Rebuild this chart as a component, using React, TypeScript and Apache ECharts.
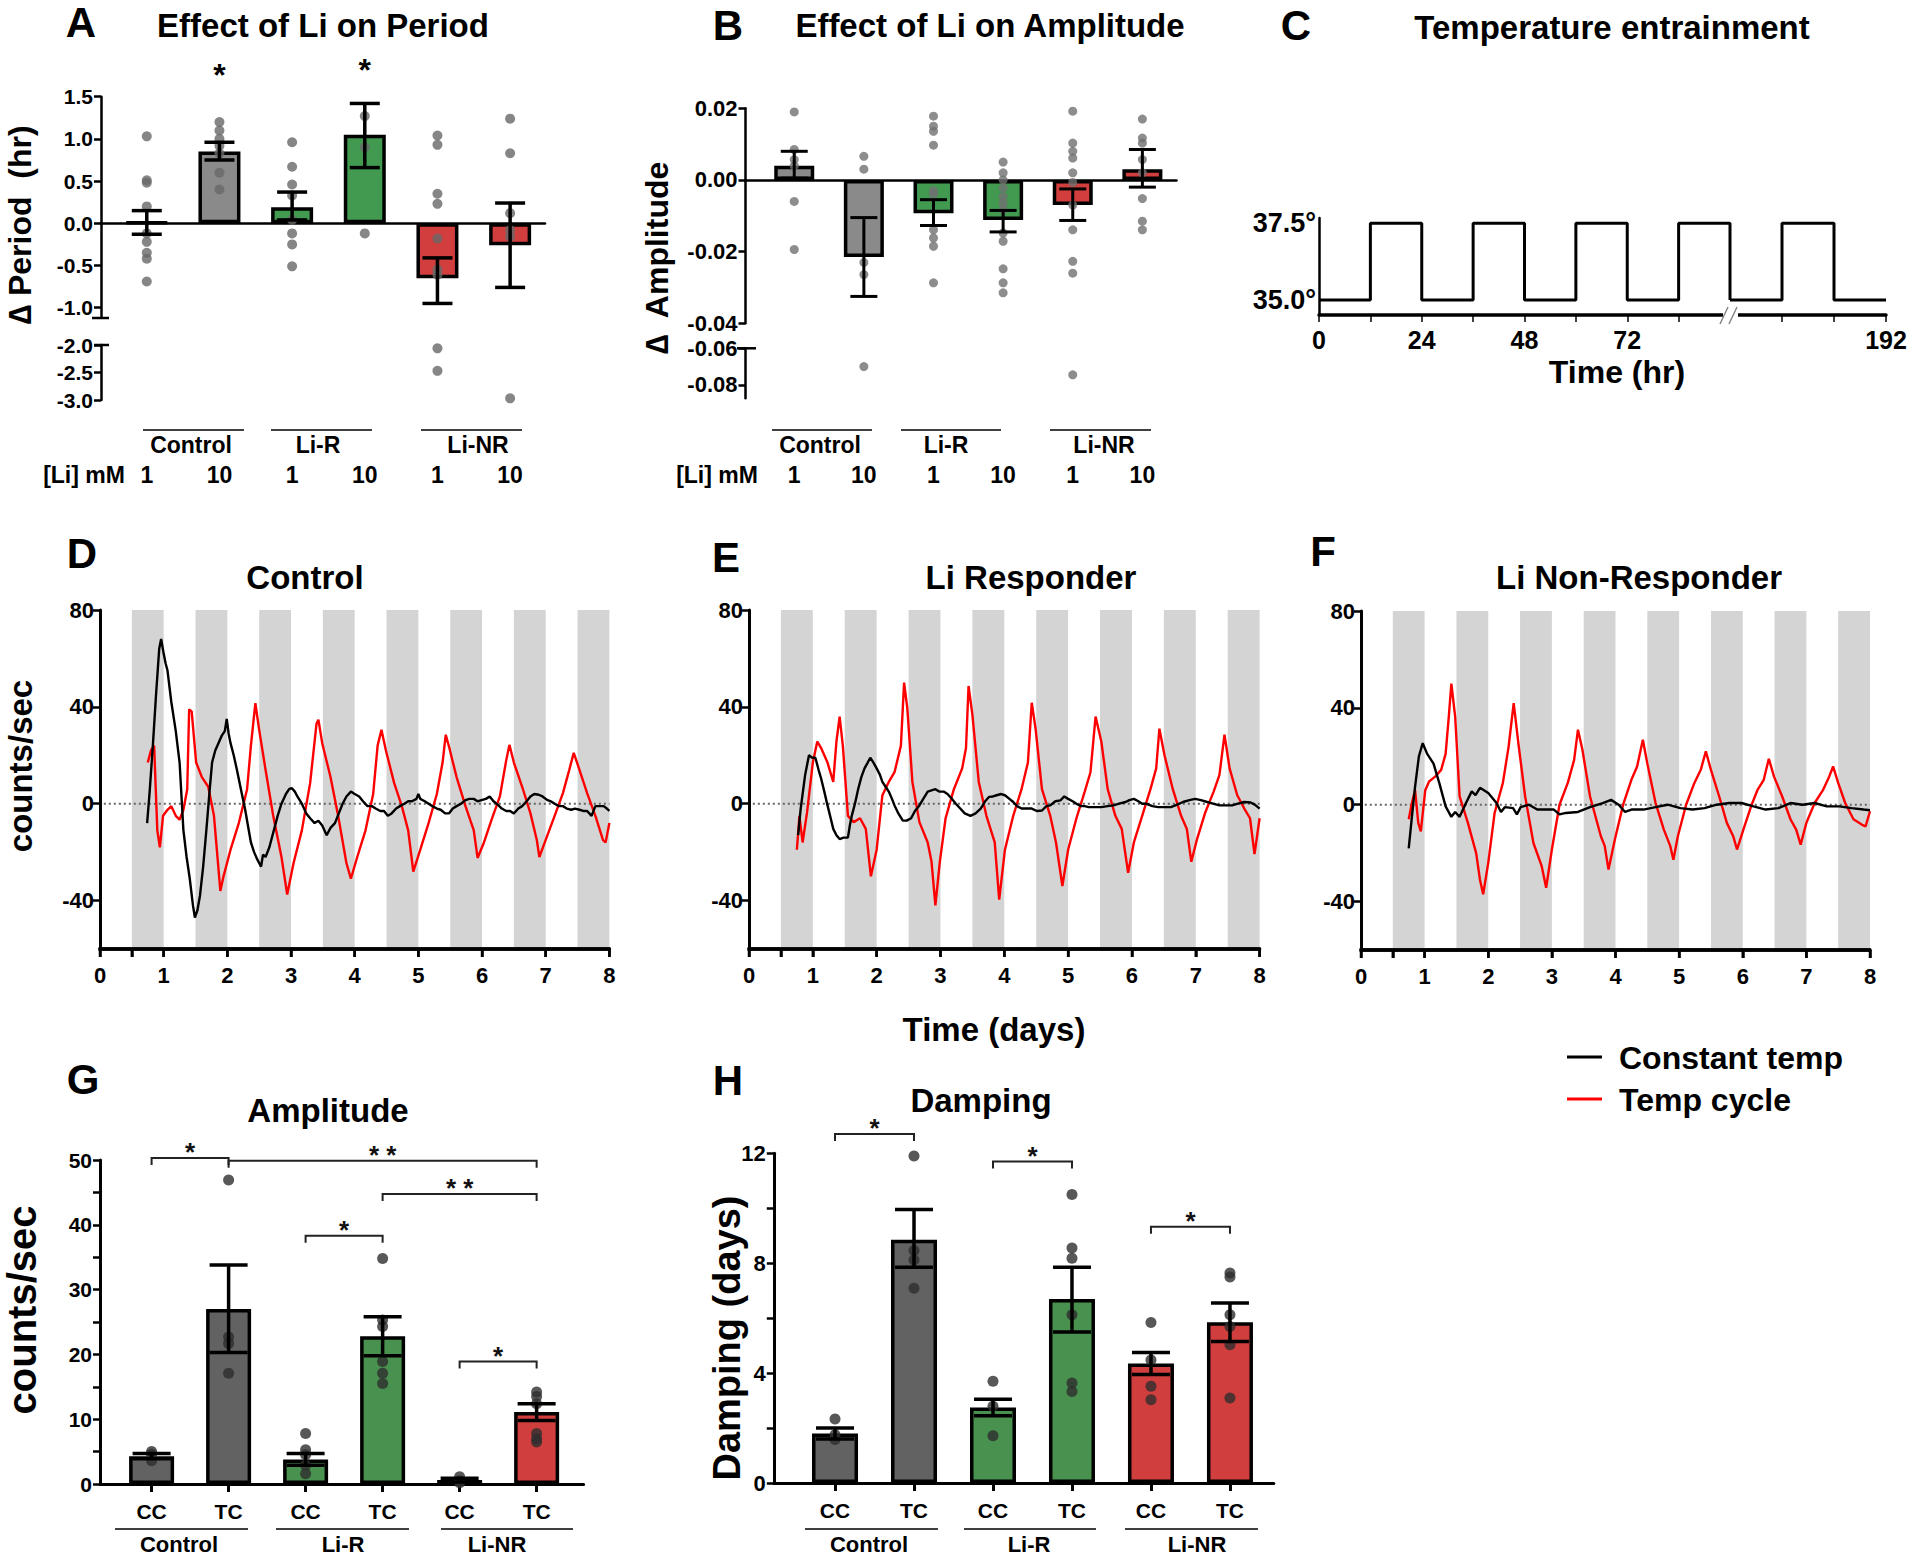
import React, { useEffect, useRef } from "react";
import * as echarts from "echarts";

const FONT = '"Liberation Sans", Arial, Helvetica, sans-serif';

// ---------------- Panel A : change in period ----------------
const groupNames = ["Control", "Li-R", "Li-NR"];
const doseLabels = ["1", "10", "1", "10", "1", "10"];
const periodMean = [0.01, 0.85, 0.19, 1.05, -0.65, -0.26];
const periodLow = [-0.13, 0.75, 0.04, 0.66, -0.95, -0.76];
const periodHigh = [0.15, 0.96, 0.37, 1.42, -0.41, 0.24];
const periodDots = [
  [1.03, 0.51, 0.48, 0.2, -0.12, -0.22, -0.35, -0.42, -0.69],
  [1.2, 1.1, 1.0, 0.92, 0.83, 0.6, 0.4],
  [0.96, 0.67, 0.46, 0.33, 0.04, -0.12, -0.25, -0.51],
  [1.27, 0.9, -0.12],
  [1.04, 0.93, 0.35, 0.23, -0.18, -0.55, -0.61, -2.06, -2.47],
  [1.24, 0.83, 0.12, -0.08, -0.16, -2.97],
];
const periodStars = [[1, 1.76], [3, 1.82]];
const periodTicksUpper = [1.5, 1.0, 0.5, 0.0, -0.5, -1.0];
const periodTicksLower = [-2.0, -2.5, -3.0];

// ---------------- Panel B : change in amplitude ----------------
const ampMean = [0.004, -0.0215, -0.0093, -0.0112, -0.007, 0.003];
const ampLow = [0.0005, -0.0325, -0.0127, -0.0145, -0.0113, -0.002];
const ampHigh = [0.008, -0.0105, -0.0055, -0.0085, -0.0025, 0.0085];
const ampDots = [
  [0.019, 0.0085, 0.0057, 0.004, -0.006, -0.0194],
  [0.0066, 0.003, -0.023, -0.0264, -0.07],
  [0.0178, 0.015, 0.0136, 0.0097, -0.003, -0.004, -0.0139, -0.0162, -0.0185, -0.0287],
  [0.005, 0.002, 0.0, -0.0022, -0.0046, -0.0064, -0.0083, -0.0148, -0.0171, -0.0248, -0.0287, -0.0315],
  [0.0192, 0.0103, 0.008, 0.0061, 0.002, -0.0007, -0.007, -0.0139, -0.0227, -0.026, -0.0745],
  [0.017, 0.0117, 0.0103, 0.0057, 0.002, -0.0052, -0.0115, -0.0139],
];
const ampTicksUpper = [0.02, 0.0, -0.02, -0.04];
const ampTicksLower = [-0.06, -0.08];

// ---------------- Panel C : temperature entrainment ----------------
const tempTimesA = [0, 12, 24, 36, 48, 60, 72, 84, 96];
const tempValsA = [35, 37.5, 35, 37.5, 35, 37.5, 35, 37.5, 35];
const tempTimesB = [156, 168, 180, 192];
const tempValsB = [35, 37.5, 35, 35];
const tempLevels = [35, 37.5];
const hourLabelsA = [0, 24, 48, 72];
const hourTicksA = [0, 12, 24, 36, 48, 60, 72, 84];
const hourLabelsB = [192];
const hourTicksB = [168, 180, 192];

// ---------------- Panels D-F : bioluminescence traces ----------------
const warmPhases = [[0.5, 1], [1.5, 2], [2.5, 3], [3.5, 4], [4.5, 5], [5.5, 6], [6.5, 7], [7.5, 8]];
const dayLabels = [0, 1, 2, 3, 4, 5, 6, 7, 8];
const dayTicks = [0, 0.5, 1, 2, 3, 4, 5, 6, 7, 8];
const countTicks = [80, 40, 0, -40];
const zeroLine = [[0.06, 0], [8, 0]];

const controlConstant = [
  [0.74, -8], [0.78, 5], [0.83, 24], [0.88, 45], [0.93, 64], [0.96, 68], [1.0, 62], [1.03, 58], [1.06, 55], [1.12, 42],
  [1.19, 30], [1.25, 17], [1.31, -11], [1.36, -22], [1.41, -31], [1.46, -42], [1.49, -47], [1.53, -44], [1.57, -38],
  [1.62, -26], [1.67, -11], [1.72, 5], [1.76, 17], [1.81, 22], [1.86, 25], [1.91, 28], [1.96, 30], [1.99, 35],
  [2.02, 29], [2.05, 25], [2.1, 20], [2.15, 14], [2.22, 5], [2.28, -2.5], [2.33, -10], [2.37, -16], [2.42, -20],
  [2.47, -23], [2.53, -26], [2.56, -21], [2.6, -22], [2.66, -18], [2.72, -12], [2.79, -5], [2.85, 0], [2.92, 4],
  [2.97, 6], [3.01, 6.5], [3.06, 5], [3.1, 3], [3.17, 0], [3.24, -4], [3.3, -6], [3.37, -8], [3.43, -7], [3.49, -9],
  [3.56, -13], [3.62, -10], [3.69, -8], [3.75, -4], [3.81, 0], [3.87, 3], [3.94, 5], [4.0, 4], [4.07, 3], [4.13, 1],
  [4.2, -1], [4.27, -1], [4.33, -2], [4.4, -3], [4.46, -3], [4.52, -5], [4.58, -4], [4.65, -2], [4.71, -1], [4.78, 0],
  [4.84, 1], [4.9, 1], [4.97, 2], [5.0, 4], [5.03, 2], [5.1, 1], [5.16, 0], [5.22, -1], [5.29, -2], [5.35, -2.5],
  [5.42, -4], [5.48, -4], [5.54, -2], [5.6, -1], [5.67, 0], [5.74, 1.5], [5.8, 2], [5.87, 2], [5.93, 1], [5.99, 1.5],
  [6.06, 2], [6.12, 3], [6.18, 1], [6.25, -0.5], [6.31, -2], [6.38, -3], [6.44, -3], [6.5, -4], [6.57, -2], [6.63, -1],
  [6.7, 1], [6.76, 3], [6.82, 4], [6.89, 3.7], [6.95, 3], [7.02, 1.6], [7.08, 1], [7.14, 0], [7.21, -1], [7.27, -1],
  [7.33, -2], [7.4, -2.5], [7.46, -2], [7.53, -2.5], [7.59, -3], [7.65, -3], [7.72, -5], [7.78, -1], [7.85, -1],
  [7.91, -1], [7.96, -2], [8.0, -3],
];
const controlCycle = [
  [0.75, 17], [0.8, 22], [0.85, 24], [0.9, -11], [0.94, -18], [0.99, -5], [1.06, -2.5], [1.12, -1], [1.19, -5],
  [1.25, -6.6], [1.31, -2.5], [1.37, 6], [1.4, 39], [1.44, 38], [1.51, 17], [1.6, 11], [1.7, 7], [1.79, -5],
  [1.89, -36], [1.94, -30], [2.05, -19], [2.18, -8], [2.31, 6], [2.37, 24], [2.44, 41.5], [2.5, 30.5], [2.6, 14],
  [2.72, -5], [2.85, -22], [2.94, -37.5], [3.04, -24.5], [3.17, -11], [3.3, 8.5], [3.4, 33], [3.43, 34.7], [3.49, 25],
  [3.62, 11], [3.74, -5], [3.87, -24.5], [3.94, -31], [4.04, -22], [4.17, -11], [4.29, 4], [4.36, 24], [4.42, 30.5],
  [4.49, 22], [4.62, 8.5], [4.74, -1], [4.84, -11], [4.92, -28], [5.03, -19], [5.16, -8], [5.29, 4], [5.38, 17],
  [5.43, 28.5], [5.48, 23.7], [5.6, 11], [5.74, -1], [5.87, -11], [5.93, -22.4], [6.03, -16], [6.15, -6.6], [6.28, 3],
  [6.38, 18], [6.43, 24.3], [6.5, 17], [6.63, 7], [6.76, -4], [6.86, -15], [6.9, -22], [7.02, -13.5], [7.14, -5],
  [7.27, 4.4], [7.37, 14], [7.44, 21], [7.53, 14], [7.65, 4.4], [7.78, -5], [7.9, -15], [7.94, -16], [8.0, -8],
];
const responderConstant = [
  [0.77, -13], [0.81, -2], [0.88, 12], [0.94, 20], [0.99, 19], [1.04, 19], [1.09, 14], [1.13, 10.4], [1.18, 5],
  [1.23, -0.7], [1.28, -6], [1.32, -10.4], [1.37, -13], [1.42, -14.6], [1.48, -14], [1.55, -14], [1.58, -9], [1.61, -5],
  [1.66, 0], [1.71, 6], [1.76, 11], [1.81, 14.6], [1.86, 17], [1.9, 19], [1.95, 17], [2.0, 14.6], [2.05, 12], [2.09, 9],
  [2.14, 7], [2.19, 5], [2.24, 2], [2.28, -0.7], [2.34, -4], [2.41, -7], [2.47, -7], [2.54, -6], [2.6, -3], [2.67, -0.7],
  [2.73, 2], [2.8, 5], [2.86, 5.5], [2.92, 6], [2.98, 5], [3.05, 5], [3.11, 4], [3.18, 2], [3.24, 0], [3.31, -2],
  [3.38, -4], [3.47, -5], [3.55, -4], [3.63, -2], [3.7, 1], [3.76, 2.8], [3.82, 3], [3.88, 3.5], [3.95, 4], [4.01, 3.5],
  [4.08, 2], [4.14, 0.7], [4.2, -1], [4.27, -2], [4.35, -2], [4.43, -2], [4.51, -3], [4.59, -2.8], [4.66, -1],
  [4.72, -0.7], [4.8, 1], [4.88, 1.4], [4.94, 3], [5.0, 2], [5.07, 1], [5.13, 0], [5.2, -1], [5.26, -1], [5.32, -1.4],
  [5.42, -1.4], [5.52, -1.4], [5.62, -1], [5.71, -0.7], [5.8, 0], [5.9, 0.7], [5.96, 1.5], [6.03, 2], [6.1, 1],
  [6.16, 0], [6.22, 0], [6.32, -1], [6.41, -1.4], [6.51, -1.4], [6.61, -1.4], [6.7, -0.5], [6.8, 0.7], [6.9, 1.5],
  [6.99, 2], [7.08, 1.5], [7.18, 0.7], [7.27, 0], [7.37, -0.7], [7.47, -0.7], [7.57, -0.7], [7.66, 0], [7.76, 0.7],
  [7.86, 0.5], [7.93, -0.5], [8.0, -2],
];
const responderCycle = [
  [0.75, -19], [0.79, -5], [0.84, -16], [0.91, -3.5], [1.0, 17], [1.07, 25.7], [1.13, 23], [1.23, 17], [1.32, 9],
  [1.37, 25.7], [1.42, 36], [1.47, 24], [1.55, -5], [1.64, -7.6], [1.74, -6], [1.83, -10.4], [1.91, -30], [2.0, -19],
  [2.09, 3.5], [2.19, 9], [2.28, 13], [2.38, 24], [2.43, 50], [2.48, 39.6], [2.56, 9], [2.67, -7.6], [2.8, -16],
  [2.86, -24], [2.92, -42], [2.99, -24], [3.08, -6], [3.21, 6], [3.34, 14.6], [3.4, 23], [3.44, 48.6], [3.5, 36.8],
  [3.6, 9], [3.72, -5], [3.85, -16], [3.92, -39.6], [4.01, -19], [4.14, -5], [4.27, 6], [4.37, 17], [4.43, 41.7],
  [4.49, 31], [4.59, 6], [4.72, -5], [4.81, -16], [4.91, -34], [5.0, -19], [5.13, -6], [5.26, 5], [5.35, 13],
  [5.43, 36], [5.52, 25.7], [5.62, 6], [5.74, -5], [5.84, -10.4], [5.94, -28.5], [6.03, -16], [6.16, -5], [6.29, 6],
  [6.38, 14.6], [6.43, 31], [6.51, 20], [6.64, 6], [6.77, -5], [6.86, -10.4], [6.93, -24], [7.02, -14.6], [7.15, -3.5],
  [7.28, 5], [7.37, 11.8], [7.45, 28.5], [7.53, 14.6], [7.65, 3.5], [7.76, -2], [7.85, -6], [7.92, -20.8], [8.0, -6],
];
const nonResponderConstant = [
  [0.75, -18], [0.8, -5], [0.85, 7.5], [0.91, 20], [0.97, 25.4], [1.04, 21], [1.14, 17], [1.23, 9], [1.33, -0.7],
  [1.42, -5], [1.48, -3], [1.55, -5], [1.65, 0.7], [1.74, 5.5], [1.8, 4], [1.87, 7], [2.0, 4.8], [2.13, 0.7],
  [2.2, -3], [2.26, -1], [2.39, -1.4], [2.45, -4], [2.51, -1], [2.64, 0], [2.77, -2], [2.9, -2], [3.03, -2],
  [3.12, -4], [3.22, -3.4], [3.41, -3], [3.6, -1], [3.8, 0.7], [3.93, 2], [4.05, 0], [4.15, -3], [4.25, -2],
  [4.44, -2], [4.63, -1], [4.82, 0], [5.02, -1.4], [5.21, -2], [5.4, -1.4], [5.59, 0], [5.79, 0.7], [5.98, 0.7],
  [6.17, -0.7], [6.36, -2], [6.56, -1.4], [6.75, 0.7], [6.94, 0], [7.13, 0.7], [7.32, -0.7], [7.52, -0.7],
  [7.71, -1.4], [7.9, -2], [8.0, -2.3],
];
const nonResponderCycle = [
  [0.75, -6], [0.8, 0.7], [0.85, 6], [0.9, -7.5], [0.94, -11], [1.01, 6], [1.07, 9.6], [1.17, 11.7], [1.26, 14.4],
  [1.33, 21], [1.38, 36.4], [1.42, 50], [1.48, 36.4], [1.55, 3.4], [1.68, -7.5], [1.81, -20], [1.87, -31], [1.92, -37],
  [2.0, -24], [2.1, -3.4], [2.23, 9], [2.32, 24], [2.4, 42], [2.48, 24], [2.58, 3.4], [2.71, -15.8], [2.84, -25.4],
  [2.91, -34.3], [3.0, -18.5], [3.12, 0], [3.25, 9], [3.35, 18.5], [3.41, 31], [3.48, 22.7], [3.6, 3.4], [3.77, -13],
  [3.83, -17], [3.89, -26.8], [3.99, -14.4], [4.12, 0], [4.25, 10.3], [4.34, 15.8], [4.43, 26.8], [4.5, 17],
  [4.63, 0.7], [4.76, -10.3], [4.86, -17], [4.91, -22.7], [4.98, -13], [5.11, 0], [5.24, 9], [5.34, 14.4], [5.42, 22],
  [5.5, 14.4], [5.63, 3.4], [5.75, -7.5], [5.85, -13], [5.91, -18.5], [6.01, -10.3], [6.14, 0], [6.23, 6],
  [6.33, 10.3], [6.41, 19], [6.49, 11.7], [6.62, 3.4], [6.75, -6], [6.84, -10.3], [6.91, -16.5], [7.0, -7.5],
  [7.13, 0.7], [7.26, 6], [7.36, 11.7], [7.42, 15.8], [7.5, 9], [7.61, 0.7], [7.74, -6], [7.87, -8.2], [7.93, -9],
  [8.0, -2.7],
];

// ---------------- Panel G : amplitude ----------------
const condLabels = ["CC", "TC", "CC", "TC", "CC", "TC"];
const gMean = [4.3, 27.0, 3.8, 22.8, 0.6, 11.1];
const gLow = [3.9, 20.3, 2.9, 19.8, 0.3, 9.8];
const gHigh = [4.7, 33.8, 4.7, 25.8, 0.9, 12.4];
const gDots = [
  [5.0, 4.6, 3.6],
  [46.9, 22.7, 21.7, 17.1],
  [7.8, 5.3, 4.5, 2.9, 1.6],
  [34.8, 25.3, 24.3, 18.9, 17.1, 15.5],
  [1.1, 0.5, 0.2],
  [14.2, 13.5, 12.4, 7.8, 7.0, 6.5],
];
const gBrackets = [[0, 1, 50.3], [1, 5, 49.9], [3, 5, 44.75], [2, 3, 38.3], [4, 5, 18.9]];
const gBracketLabels = ["*", "* *", "* *", "*", "*"];
const gTicks = [0, 5, 10, 15, 20, 25, 30, 35, 40, 45, 50];
const gLabels = [0, 10, 20, 30, 40, 50];

// ---------------- Panel H : damping ----------------
const hMean = [1.8, 8.85, 2.75, 6.7, 4.35, 5.85];
const hLow = [1.6, 7.85, 2.45, 5.5, 3.95, 5.15];
const hHigh = [2.0, 9.95, 3.05, 7.85, 4.75, 6.55];
const hDots = [
  [2.33, 1.76, 1.58],
  [11.9, 8.46, 8.12, 7.09],
  [3.7, 2.79, 1.72],
  [10.5, 8.55, 8.18, 6.12, 3.64, 3.33],
  [5.84, 4.48, 3.52, 3.03],
  [7.64, 7.5, 6.12, 5.7, 5.03, 3.09],
];
const hBrackets = [[0, 1, 12.7], [2, 3, 11.7], [4, 5, 9.33]];
const hBracketLabels = ["*", "*", "*"];
const hTicks = [0, 2, 4, 6, 8, 10, 12];
const hLabels = [0, 4, 8, 12];

// ---------------- colours ----------------
const lightColors = ["#8a8a8a", "#8a8a8a", "#419a50", "#419a50", "#d23e3e", "#d23e3e"];
const darkColors = ["#626262", "#626262", "#48914f", "#48914f", "#d03e3e", "#d03e3e"];

const barIdx = [0, 1, 2, 3, 4, 5];

function buildOption() {
  const grid: any[] = [];
  const xAxis: any[] = [];
  const yAxis: any[] = [];
  const series: any[] = [];
  const graphic: any[] = [];

  const lbl = (size: number, extra: any = {}) => ({
    color: "#000",
    fontFamily: FONT,
    fontWeight: "bold",
    fontSize: size,
    ...extra,
  });
  const line = (w: number) => ({ show: true, onZero: false, lineStyle: { color: "#000", width: w } });

  const addGrid = (g: any, x: any, y: any) => {
    grid.push({ ...g, containLabel: false, outerBoundsMode: "none" });
    const i = grid.length - 1;
    xAxis.push({ splitLine: { show: false }, ...x, gridIndex: i });
    yAxis.push({ splitLine: { show: false }, ...y, gridIndex: i });
    return i;
  };

  const flat = (dots: number[][]) => dots.flatMap((vals, i) => vals.map((v) => [i, v]));

  const bars = (gi: number, mean: number[], colors: string[], w: number) => ({
    type: "bar",
    xAxisIndex: gi,
    yAxisIndex: gi,
    z: 2,
    silent: true,
    barWidth: w,
    data: mean.map((v, i) => ({
      value: [i, v],
      itemStyle: { color: colors[i], borderColor: "#000", borderWidth: 3.5 },
    })),
  });

  const dots = (gi: number, data: number[][], color: string, size: number) => ({
    type: "scatter",
    xAxisIndex: gi,
    yAxisIndex: gi,
    z: 3,
    silent: true,
    symbol: "circle",
    symbolSize: size,
    itemStyle: { color },
    data,
  });

  const errors = (gi: number, lo: number[], hi: number[], capW: number, lw: number) => ({
    type: "custom",
    xAxisIndex: gi,
    yAxisIndex: gi,
    z: 4,
    silent: true,
    clip: false,
    encode: { x: 0, y: [1, 2] },
    data: lo.map((l, i) => [i, l, hi[i]]),
    renderItem: (params: any, api: any) => {
      const a = api.coord([api.value(0), api.value(1)]);
      const b = api.coord([api.value(0), api.value(2)]);
      const st = { stroke: "#000", lineWidth: lw };
      const h = capW / 2;
      return {
        type: "group",
        children: [
          { type: "line", shape: { x1: a[0], y1: a[1], x2: b[0], y2: b[1] }, style: st },
          { type: "line", shape: { x1: a[0] - h, y1: a[1], x2: a[0] + h, y2: a[1] }, style: st },
          { type: "line", shape: { x1: b[0] - h, y1: b[1], x2: b[0] + h, y2: b[1] }, style: st },
        ],
      };
    },
  });

  const brackets = (gi: number, data: number[][], labels: string[]) => ({
    type: "custom",
    xAxisIndex: gi,
    yAxisIndex: gi,
    z: 5,
    silent: true,
    clip: false,
    encode: { x: [0, 1], y: 2 },
    data,
    renderItem: (params: any, api: any) => {
      const a = api.coord([api.value(0), api.value(2)]);
      const b = api.coord([api.value(1), api.value(2)]);
      const leg = 7;
      return {
        type: "group",
        children: [
          {
            type: "polyline",
            shape: { points: [[a[0], a[1] + leg], [a[0], a[1]], [b[0], b[1]], [b[0], b[1] + leg]] },
            style: { stroke: "#222", lineWidth: 2, fill: null },
          },
          {
            type: "text",
            x: (a[0] + b[0]) / 2,
            y: a[1] - 6,
            style: {
              text: labels[params.dataIndex],
              font: `bold 26px ${FONT}`,
              fill: "#111",
              textAlign: "center",
              textVerticalAlign: "middle",
              align: "center",
              verticalAlign: "middle",
            },
          },
        ],
      };
    },
  });

  const T = (text: string, x: number, y: number, size: number, opt: any = {}) => ({
    type: "text",
    x,
    y,
    rotation: opt.rot || 0,
    silent: true,
    z: 100,
    style: {
      text,
      font: `bold ${size}px ${FONT}`,
      fill: opt.color || "#000",
      textAlign: opt.align || "center",
      textVerticalAlign: "middle",
      align: opt.align || "center",
      verticalAlign: "middle",
    },
  });
  const L = (x1: number, y1: number, x2: number, y2: number, w = 1.6, color = "#000") => ({
    type: "line",
    silent: true,
    z: 100,
    shape: { x1, y1, x2, y2 },
    style: { stroke: color, lineWidth: w },
  });

  const hiddenX = (min: number, max: number) => ({
    type: "value",
    min,
    max,
    axisLine: { show: true, onZero: true, lineStyle: { color: "#000", width: 2.5 } },
    axisTick: { show: false },
    axisLabel: { show: false },
  });
  const doseX = (min: number, max: number, margin: number) => ({
    type: "value",
    min,
    max,
    axisLine: { show: false, onZero: false },
    axisTick: { show: false },
    axisLabel: { ...lbl(23), customValues: barIdx, formatter: (v: number) => doseLabels[Math.round(v)], margin },
  });
  const valueY = (min: number, max: number, ticks: number[], labels: number[], fmt: any, size: number, w = 2.5) => ({
    type: "value",
    min,
    max,
    axisLine: line(w),
    axisTick: { show: true, customValues: ticks, length: 7, lineStyle: { color: "#000", width: 2.5 } },
    axisLabel: { ...lbl(size), customValues: labels, formatter: fmt, margin: 8 },
  });

  // ===== Panel A =====
  const gA = addGrid(
    { left: 101, top: 96.7, width: 444, height: 221.1 },
    hiddenX(-0.63, 5.48),
    valueY(-1.12, 1.5, periodTicksUpper, periodTicksUpper, (v: number) => v.toFixed(1), 21)
  );
  const gA2 = addGrid(
    { left: 101, top: 345, width: 444, height: 55 },
    doseX(-0.63, 5.48, 63),
    valueY(-3, -2, periodTicksLower, periodTicksLower, (v: number) => v.toFixed(1), 21)
  );
  const aAll = flat(periodDots);
  series.push(bars(gA, periodMean, lightColors, 42));
  series.push(dots(gA, aAll.filter((d) => d[1] >= -1.12), "#686868", 10));
  series.push(dots(gA2, aAll.filter((d) => d[1] < -1.12), "#686868", 10));
  series.push(errors(gA, periodLow, periodHigh, 30, 3.5));
  series.push({
    type: "custom",
    xAxisIndex: gA,
    yAxisIndex: gA,
    z: 5,
    clip: false,
    silent: true,
    encode: { x: 0, y: 1 },
    data: periodStars,
    renderItem: (p: any, api: any) => {
      const c = api.coord([api.value(0), api.value(1)]);
      return {
        type: "text",
        x: c[0],
        y: c[1],
        style: {
          text: "*",
          font: `bold 32px ${FONT}`,
          fill: "#000",
          textAlign: "center",
          textVerticalAlign: "middle",
          align: "center",
          verticalAlign: "middle",
        },
      };
    },
  });
  graphic.push(L(92, 318, 109, 318, 2.5), L(94, 345, 109, 345, 2.5));
  graphic.push(T("A", 81, 22, 42), T("Effect of Li on Period", 323, 25, 33));
  graphic.push(T("\u2206 Period  (hr)", 20, 225, 32, { rot: Math.PI / 2 }));
  graphic.push(L(143, 430, 244, 430), L(271, 430, 372, 430), L(421, 430, 522, 430));
  graphic.push(T(groupNames[0], 191, 445, 23), T(groupNames[1], 318, 445, 23), T(groupNames[2], 478, 445, 23));
  graphic.push(T("[Li] mM", 84, 475, 23));

  // ===== Panel B =====
  const gB = addGrid(
    { left: 745.5, top: 108.3, width: 431, height: 215 },
    hiddenX(-0.7, 5.49),
    valueY(-0.04, 0.02, ampTicksUpper, ampTicksUpper, (v: number) => v.toFixed(2), 22)
  );
  const gB2 = addGrid(
    { left: 745.5, top: 348.3, width: 431, height: 50 },
    doseX(-0.7, 5.49, 65),
    valueY(-0.0873, -0.06, ampTicksLower, ampTicksLower, (v: number) => v.toFixed(2), 22)
  );
  const bAll = flat(ampDots);
  series.push(bars(gB, ampMean, lightColors, 40));
  series.push(dots(gB, bAll.filter((d) => d[1] >= -0.04), "#707070", 9));
  series.push(dots(gB2, bAll.filter((d) => d[1] < -0.04), "#707070", 9));
  series.push(errors(gB, ampLow, ampHigh, 27, 3));
  graphic.push(L(737, 348.3, 756, 348.3, 2.5));
  graphic.push(T("B", 728, 25, 42), T("Effect of Li on Amplitude", 990, 25, 33));
  graphic.push(T("\u2206  Amplitude", 657, 258, 32, { rot: Math.PI / 2 }));
  graphic.push(L(772, 430, 872, 430), L(901, 430, 1001, 430), L(1050, 430, 1151, 430));
  graphic.push(T(groupNames[0], 820, 445, 23), T(groupNames[1], 946, 445, 23), T(groupNames[2], 1104, 445, 23));
  graphic.push(T("[Li] mM", 717, 475, 23));

  // ===== Panel C =====
  const cX = (min: number, max: number, ticks: number[], labels: number[]) => ({
    type: "value",
    min,
    max,
    axisLine: line(3.5),
    axisTick: { show: true, customValues: ticks, length: 7, lineStyle: { color: "#000", width: 1.5 } },
    axisLabel: { ...lbl(25), customValues: labels, margin: 12 },
  });
  const gC1 = addGrid(
    { left: 1319, top: 218, width: 411, height: 97 },
    cX(0, 96, hourTicksA, hourLabelsA),
    {
      type: "value",
      min: 34.51,
      max: 37.67,
      axisLine: line(2.5),
      axisTick: { show: false },
      axisLabel: { ...lbl(27), customValues: tempLevels, formatter: (v: number) => v.toFixed(1) + "\u00B0", margin: 3 },
    }
  );
  const gC2 = addGrid(
    { left: 1730, top: 218, width: 156, height: 97 },
    cX(156, 192, hourTicksB, hourLabelsB),
    { type: "value", min: 34.51, max: 37.67, show: false }
  );
  const tempStyle = { color: "#000", width: 3 };
  series.push({
    type: "line", xAxisIndex: gC1, yAxisIndex: gC1, step: "end", symbol: "none", silent: true,
    lineStyle: tempStyle, data: tempTimesA.map((t, i) => [t, tempValsA[i]]),
  });
  series.push({
    type: "line", xAxisIndex: gC2, yAxisIndex: gC2, step: "end", symbol: "none", silent: true,
    lineStyle: tempStyle, data: tempTimesB.map((t, i) => [t, tempValsB[i]]),
  });
  graphic.push({ type: "rect", silent: true, z: 100, shape: { x: 1723, y: 309, width: 15, height: 12 }, style: { fill: "#fff" } });
  graphic.push(L(1720, 324, 1728, 307, 1.5, "#888"), L(1729, 324, 1737, 307, 1.5, "#888"));
  graphic.push(T("C", 1296, 25, 42), T("Temperature entrainment", 1612, 27, 33));
  graphic.push(T("Time (hr)", 1617, 372, 32));

  // ===== Panels D-F =====
  const tsPanel = (left: number, top: number, width: number, constant: number[][], cycle: number[][]) => {
    const g = addGrid(
      { left, top, width, height: 339 },
      {
        type: "value",
        min: 0,
        max: 8,
        z: 10,
        axisLine: line(3.5),
        axisTick: { show: true, customValues: dayTicks, length: 8, lineStyle: { color: "#000", width: 2.5 } },
        axisLabel: { ...lbl(22), customValues: dayLabels, margin: 15 },
      },
      {
        type: "value",
        min: -60,
        max: 80,
        z: 10,
        axisLine: line(3),
        axisTick: { show: true, customValues: countTicks, length: 7, lineStyle: { color: "#000", width: 2.5 } },
        axisLabel: { ...lbl(22), customValues: countTicks, margin: 6 },
      }
    );
    // warm-phase shading
    series.push({
      type: "custom",
      xAxisIndex: g,
      yAxisIndex: g,
      z: 1,
      silent: true,
      encode: { x: [0, 1] },
      data: warmPhases,
      renderItem: (params: any, api: any) => {
        const cs = params.coordSys;
        const a = api.coord([api.value(0), 0]);
        const b = api.coord([api.value(1), 0]);
        return {
          type: "rect",
          shape: { x: a[0], y: cs.y, width: b[0] - a[0], height: cs.height - 2 },
          style: { fill: "#d4d4d4" },
        };
      },
    });
    // bottom axis line and day ticks, drawn through the x scale
    series.push({
      type: "custom",
      xAxisIndex: g,
      yAxisIndex: g,
      z: 11,
      silent: true,
      clip: false,
      encode: { x: 0 },
      data: dayTicks.map((t) => [t]),
      renderItem: (params: any, api: any) => {
        const cs = params.coordSys;
        const x = api.coord([api.value(0), 0])[0];
        const yb = cs.y + cs.height;
        const children: any[] = [
          { type: "line", shape: { x1: x, y1: yb, x2: x, y2: yb + 8 }, style: { stroke: "#000", lineWidth: 2.5 } },
        ];
        if (params.dataIndex === 0) {
          children.push({
            type: "line",
            shape: { x1: cs.x - 1.5, y1: yb, x2: cs.x + cs.width + 1, y2: yb },
            style: { stroke: "#000", lineWidth: 3.5 },
          });
        }
        return { type: "group", children };
      },
    });
    series.push({
      type: "line", xAxisIndex: g, yAxisIndex: g, z: 2, symbol: "none", silent: true,
      lineStyle: { color: "#666", width: 2, type: [2, 3] }, data: zeroLine,
    });
    series.push({
      name: "Temp cycle", type: "line", xAxisIndex: g, yAxisIndex: g, z: 3, symbol: "none", silent: true,
      lineStyle: { color: "#ff0000", width: 2.4 }, data: cycle,
    });
    series.push({
      name: "Constant temp", type: "line", xAxisIndex: g, yAxisIndex: g, z: 4, symbol: "none", silent: true,
      lineStyle: { color: "#000", width: 2.4 }, data: constant,
    });
  };
  tsPanel(100, 610, 509.4, controlConstant, controlCycle);
  tsPanel(749, 610, 510.6, responderConstant, responderCycle);
  tsPanel(1361, 611, 509, nonResponderConstant, nonResponderCycle);
  graphic.push(T("D", 82, 553, 42), T("Control", 305, 577, 33));
  graphic.push(T("E", 726, 557, 42), T("Li Responder", 1031, 577, 33));
  graphic.push(T("F", 1323, 551, 42), T("Li Non-Responder", 1639, 577, 33));
  graphic.push(T("counts/sec", 20, 766, 33, { rot: Math.PI / 2 }));
  graphic.push(T("Time (days)", 994, 1029, 33));
  // legend
  graphic.push(L(1567, 1057, 1602, 1057, 3, "#000"), L(1567, 1099, 1602, 1099, 3, "#ff0000"));
  graphic.push(T("Constant temp", 1619, 1058, 32, { align: "left" }), T("Temp cycle", 1619, 1100, 32, { align: "left" }));

  // ===== Panels G & H =====
  const condX = (min: number, max: number) => ({
    type: "value",
    min,
    max,
    axisLine: line(3),
    axisTick: { show: true, customValues: barIdx, length: 8, lineStyle: { color: "#000", width: 3 } },
    axisLabel: { ...lbl(21), customValues: barIdx, formatter: (v: number) => condLabels[Math.round(v)], margin: 17 },
  });
  const gG = addGrid(
    { left: 100, top: 1160, width: 483.6, height: 324 },
    condX(-0.67, 5.61),
    valueY(0, 50, gTicks, gLabels, (v: number) => String(v), 21, 3)
  );
  series.push(bars(gG, gMean, darkColors, 45));
  series.push(dots(gG, flat(gDots), "#2e2e2e", 11));
  series.push(errors(gG, gLow, gHigh, 38, 3.5));
  series.push(brackets(gG, gBrackets, gBracketLabels));
  graphic.push(T("G", 83, 1079, 42), T("Amplitude", 328, 1110, 33));
  graphic.push(T("counts/sec", 22, 1310, 40, { rot: Math.PI / 2 }));
  graphic.push(L(115, 1529, 248, 1529), L(276, 1529, 409, 1529), L(441, 1529, 573, 1529));
  graphic.push(T(groupNames[0], 179, 1544, 22), T(groupNames[1], 343, 1544, 22), T(groupNames[2], 497, 1544, 22));

  const gH = addGrid(
    { left: 773.8, top: 1153.3, width: 500, height: 329.7 },
    condX(-0.775, 5.555),
    valueY(0, 12, hTicks, hLabels, (v: number) => String(v), 22, 3)
  );
  series.push(bars(gH, hMean, darkColors, 46));
  series.push(dots(gH, flat(hDots), "#2e2e2e", 11));
  series.push(errors(gH, hLow, hHigh, 38, 3.5));
  series.push(brackets(gH, hBrackets, hBracketLabels));
  graphic.push(T("H", 728, 1080, 42), T("Damping", 981, 1100, 33));
  graphic.push(T("Damping (days)", 727, 1338, 38, { rot: Math.PI / 2 }));
  graphic.push(L(805, 1529, 938, 1529), L(964, 1529, 1096, 1529), L(1125, 1529, 1258, 1529));
  graphic.push(T(groupNames[0], 869, 1544, 22), T(groupNames[1], 1029, 1544, 22), T(groupNames[2], 1197, 1544, 22));

  return {
    animation: false,
    backgroundColor: "#ffffff",
    textStyle: { fontFamily: FONT },
    grid,
    xAxis,
    yAxis,
    series,
    graphic: { elements: graphic },
  };
}

export default function App() {
  const ref = useRef<HTMLDivElement>(null);
  useEffect(() => {
    if (!ref.current) return;
    const chart = echarts.init(ref.current, undefined, { renderer: "svg" });
    chart.setOption(buildOption() as any);
    return () => chart.dispose();
  }, []);
  return (
    <div
      ref={ref}
      style={{ position: "absolute", left: 0, top: 0, width: 1920, height: 1555, background: "#fff" }}
    />
  );
}
